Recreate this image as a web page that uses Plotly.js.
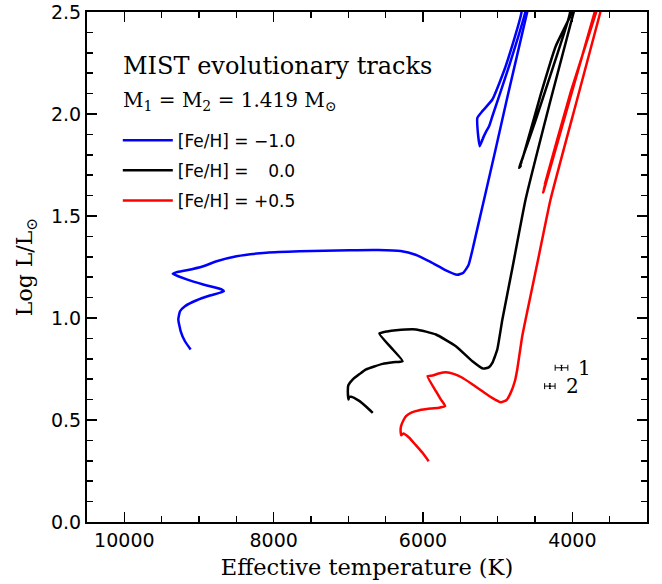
<!DOCTYPE html>
<html>
<head>
<meta charset="utf-8">
<script src="https://cdn.plot.ly/plotly-3.0.1.min.js"></script>
<style>html,body{margin:0;padding:0;background:#fff;}</style>
</head>
<body>
<div id="plot" style="width:662px;height:584px;"></div>
<script>
// [Fe/H] = -1.0 track (Teff, log L); null separates the pre- and post-RGB-tip segments
const blueT = [9112, 9188, 9245, 9277, 9254, 9188, 9031, 8854, 8667, 8697, 8943, 9165, 9352, 9298, 9165, 8943, 8764, 8497, 8097, 7652, 6985, 6600, 6300, 6100, 5900, 5700, 5543, 5460, 5390, 5340, 5290, 5182, 5026, 4878, 4604, 4570,
  null, 4715, 4679, 4893, 5071, 5205, 5272, 5267, 5240, 5205, 5225, 5180, 5200, 5160, 5115, 5071, 4848, 4626, 4600];
const blueL = [0.846, 0.886, 0.935, 0.993, 1.033, 1.058, 1.087, 1.110, 1.131, 1.140, 1.164, 1.189, 1.217, 1.225, 1.234, 1.254, 1.278, 1.303, 1.320, 1.327, 1.332, 1.333, 1.328, 1.310, 1.275, 1.235, 1.212, 1.222, 1.260, 1.330, 1.410, 1.581, 1.830, 2.070, 2.500, 2.550,
  null, 2.550, 2.504, 2.234, 2.071, 2.014, 1.981, 1.916, 1.842, 1.875, 1.855, 1.895, 1.880, 1.910, 1.940, 1.989, 2.234, 2.504, 2.550];

// [Fe/H] = 0.0 track
const blackT = [6673, 6760, 6860, 6962, 6990, 6998, 7007, 7000, 6940, 6850, 6762, 6540, 6400, 6273, 6430, 6584, 6480, 6361, 6094, 5827, 5560, 5338, 5196, 5120, 5071, 5005, 4937, 4800, 4626, 4290, 3981, 3950,
  null, 4065, 4030, 4255, 4500, 4690, 4713, 4690, 4708, 4680, 4700, 4660, 4420, 4225, 4003, 3975];
const blackL = [0.535, 0.565, 0.595, 0.614, 0.612, 0.600, 0.641, 0.670, 0.699, 0.725, 0.748, 0.775, 0.783, 0.788, 0.856, 0.924, 0.934, 0.940, 0.944, 0.919, 0.862, 0.788, 0.752, 0.758, 0.780, 0.846, 0.993, 1.250, 1.581, 2.070, 2.500, 2.550,
  null, 2.550, 2.500, 2.234, 1.960, 1.760, 1.736, 1.745, 1.740, 1.765, 1.750, 1.790, 2.100, 2.330, 2.500, 2.550];

// [Fe/H] = +0.5 track
const redT = [5924, 6006, 6100, 6184, 6264, 6290, 6300, 6294, 6260, 6227, 6150, 6050, 5900, 5783, 5703, 5760, 5827, 5939, 5872, 5790, 5694, 5580, 5472, 5340, 5205, 5080, 4959, 4880, 4826, 4770, 4738, 4671, 4626, 4451, 4292, 3937, 3624, 3590,
  null, 3665, 3700, 4035, 4370, 4390, 4360, 4385, 4345, 4365, 4020, 3680, 3645];
const redL = [0.298, 0.339, 0.378, 0.413, 0.434, 0.425, 0.445, 0.470, 0.500, 0.519, 0.537, 0.548, 0.556, 0.560, 0.568, 0.600, 0.641, 0.715, 0.718, 0.728, 0.734, 0.725, 0.707, 0.675, 0.641, 0.610, 0.587, 0.598, 0.633, 0.690, 0.748, 0.911, 0.993, 1.300, 1.581, 2.070, 2.500, 2.550,
  null, 2.550, 2.500, 2.070, 1.640, 1.615, 1.655, 1.628, 1.680, 1.660, 2.110, 2.500, 2.550];

// observed components
const starT = [4145, 4301];
const starL = [0.756, 0.666];
const starTerr = [85, 70];
const starLerr = [0.012, 0.012];
const starLabels = ['1', '2'];

const trackNames = ['[Fe/H] = \u22121.0', '[Fe/H] =\u00a0\u2007\u20090.0', '[Fe/H] = +0.5'];
const trackColors = ['#0000ff', '#000000', '#ff0000'];

const serif = 'DejaVu Serif, Liberation Serif, serif';
const sans = 'DejaVu Sans, Liberation Sans, sans-serif';

const tracks = [[blueT, blueL], [blackT, blackL], [redT, redL]].map((d, i) => ({
  type: 'scatter', mode: 'lines', x: d[0], y: d[1], name: trackNames[i],
  legendgroup: 'g' + i, connectgaps: false, cliponaxis: true,
  line: {color: trackColors[i], width: 2.5, shape: 'spline', smoothing: 0.45}
}));

const stars = {
  type: 'scatter', mode: 'markers', x: starT, y: starL, showlegend: false,
  marker: {size: 2, color: '#000'},
  error_x: {type: 'data', array: starTerr, visible: true, color: '#000', thickness: 1, width: 3},
  error_y: {type: 'data', array: starLerr, visible: true, color: '#000', thickness: 1, width: 1}
};

const annotations = [
  {xref: 'paper', yref: 'paper', x: 0.060, y: 0.894, xanchor: 'left', yanchor: 'middle', showarrow: false,
   text: 'MIST evolutionary tracks', font: {family: serif, size: 24, color: '#000'}},
  {xref: 'paper', yref: 'paper', x: 0.060, y: 0.825, xanchor: 'left', yanchor: 'middle', showarrow: false,
   text: 'M<sub>1</sub> = M<sub>2</sub> = 1.419 M<sub>\u2299</sub>', font: {family: serif, size: 20, color: '#000'}}
].concat(starLabels.map((t, i) => ({
  xref: 'x', yref: 'y', x: starT[i], y: starL[i], xanchor: 'left', yanchor: 'middle', xshift: 14, showarrow: false,
  text: t, font: {family: serif, size: 20, color: '#000'}
})));

const axisCommon = {
  showline: true, linewidth: 2, linecolor: '#000', mirror: 'ticks',
  ticks: 'inside', ticklen: 10, tickwidth: 1.5, tickcolor: '#000',
  showgrid: false, zeroline: false,
  tickfont: {family: sans, size: 19, color: '#000'}
};

const layout = {
  width: 662, height: 584,
  margin: {l: 87, r: 15, t: 12, b: 62},
  paper_bgcolor: '#fff', plot_bgcolor: '#fff',
  showlegend: true,
  legend: {x: 0.055, y: 0.783, xanchor: 'left', yanchor: 'top', bgcolor: 'rgba(0,0,0,0)',
    font: {family: sans, size: 17, color: '#000'}, itemwidth: 50, traceorder: 'grouped', tracegroupgap: 5},
  xaxis: Object.assign({}, axisCommon, {
    range: [10500, 3000], tick0: 0, dtick: 2000, tickformat: 'd',
    minor: {dtick: 500, ticklen: 6, tickwidth: 1.5, tickcolor: '#000', ticks: 'inside', showgrid: false},
    title: {text: 'Effective temperature (K)', font: {family: serif, size: 22.5, color: '#000'}, standoff: 9}
  }),
  yaxis: Object.assign({}, axisCommon, {
    range: [0, 2.5], tick0: 0, dtick: 0.5, tickformat: '.1f',
    minor: {dtick: 0.1, ticklen: 6, tickwidth: 1.5, tickcolor: '#000', ticks: 'inside', showgrid: false},
    title: {text: 'Log L/L<sub>\u2299</sub>', font: {family: serif, size: 22, color: '#000'}, standoff: 12}
  }),
  annotations: annotations
};

Plotly.newPlot('plot', tracks.concat([stars]), layout, {staticPlot: true, displayModeBar: false});
</script>
</body>
</html>
